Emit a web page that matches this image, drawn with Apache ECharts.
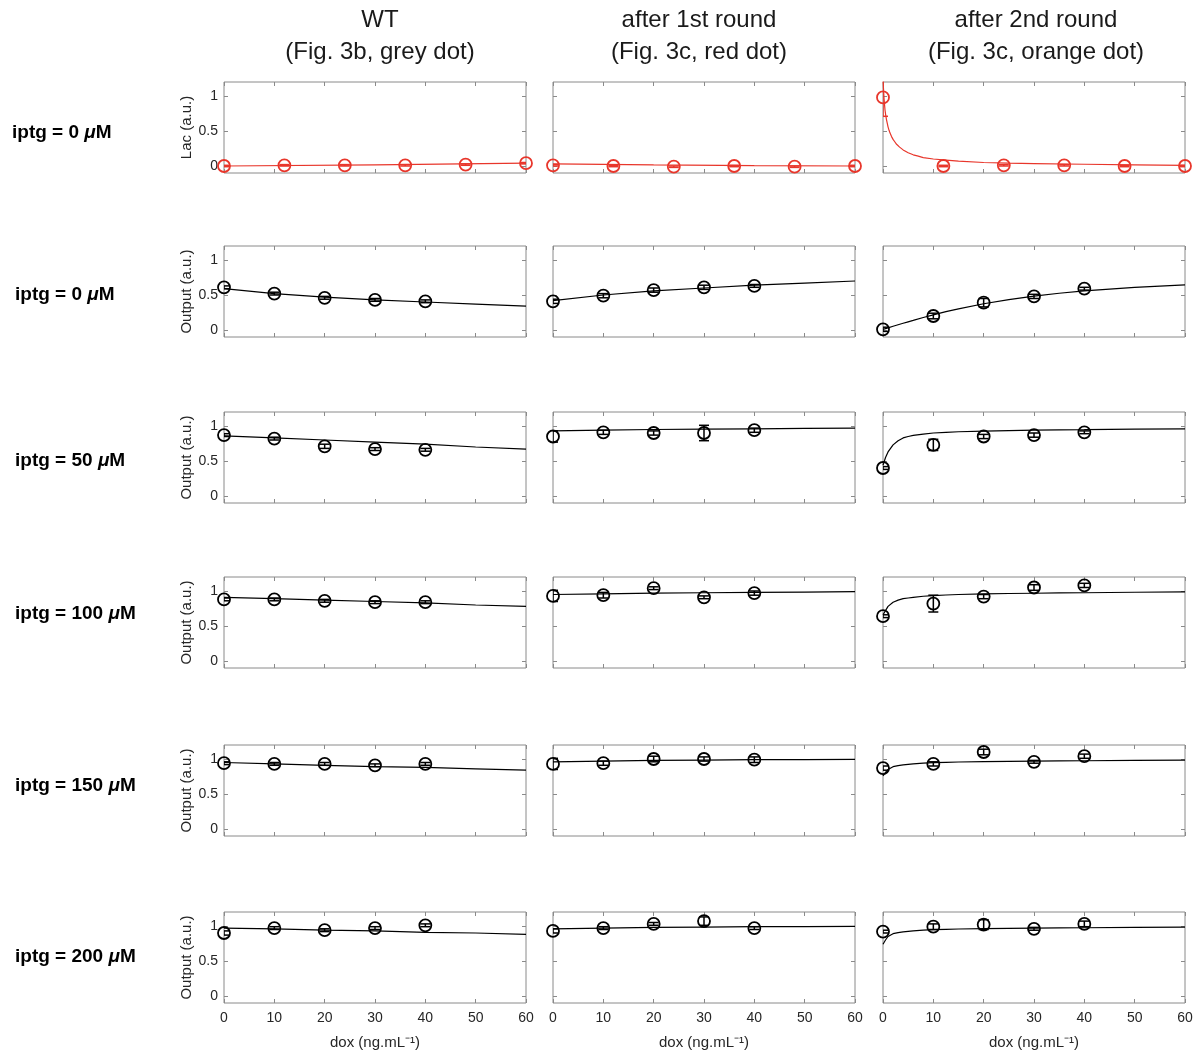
<!DOCTYPE html>
<html><head><meta charset="utf-8">
<script src="https://cdn.jsdelivr.net/npm/echarts@6/dist/echarts.min.js"></script>
<style>html,body{margin:0;padding:0;background:#fff}#c{width:1201px;height:1052px}</style>
</head><body><div id="c"></div>
<script>
// ---------- DATA ----------
const colTitles = [["WT", "(Fig. 3b, grey dot)"], ["after 1st round", "(Fig. 3c, red dot)"], ["after 2nd round", "(Fig. 3c, orange dot)"]];
const rowIptg = ["0", "0", "50", "100", "150", "200"];
const xTicks = [0, 10, 20, 30, 40, 50, 60];
const yTicks = [0, 0.5, 1];

// Lac row (red)
const lacX = [0, 12, 24, 36, 48, 60];
const wtLac = [0.00, 0.01, 0.01, 0.01, 0.02, 0.04];
const r1Lac = [0.01, 0.00, -0.01, 0.00, -0.01, 0.00];
const r2Lac = [0.98, 0.00, 0.01, 0.01, 0.00, 0.00];
const wtLacErr = [0.01, 0.01, 0.01, 0.01, 0.01, 0.01];
const r1LacErr = [0.01, 0.01, 0.01, 0.01, 0.01, 0.01];
const r2LacErr = [0.27, 0.01, 0.01, 0.01, 0.01, 0.01];
const wtLacFit = [[0, 0.00], [30, 0.015], [60, 0.04]];
const r1LacFit = [[0, 0.03], [20, 0.015], [40, 0.005], [60, 0.00]];
const r2LacFit = [[0, 1.25], [0.1, 1.1], [0.2, 0.97], [0.3, 0.88], [0.4, 0.8], [0.55, 0.72], [0.7, 0.66], [0.85, 0.61], [1, 0.56], [1.2, 0.51], [1.4, 0.47], [1.7, 0.42], [2, 0.38], [2.3, 0.35], [2.7, 0.31], [3.3, 0.27], [4, 0.23], [5, 0.19], [6, 0.16], [7, 0.14], [8, 0.12], [10, 0.10], [12.5, 0.085], [15, 0.07], [20, 0.05], [25, 0.04], [30, 0.035], [40, 0.025], [50, 0.017], [60, 0.01]];

// Output rows (iptg 0, 50, 100, 150, 200)
const doseX = [0, 10, 20, 30, 40];
const wtMean = [
  [0.61, 0.52, 0.46, 0.43, 0.41],
  [0.87, 0.82, 0.71, 0.67, 0.66],
  [0.88, 0.88, 0.86, 0.84, 0.84],
  [0.94, 0.93, 0.93, 0.91, 0.93],
  [0.90, 0.97, 0.94, 0.97, 1.01]
];
const wtErr = [
  [0.02, 0.02, 0.02, 0.02, 0.02],
  [0.02, 0.02, 0.03, 0.02, 0.02],
  [0.02, 0.02, 0.02, 0.02, 0.02],
  [0.02, 0.02, 0.02, 0.02, 0.02],
  [0.03, 0.02, 0.02, 0.02, 0.02]
];
const r1Mean = [
  [0.41, 0.49, 0.57, 0.61, 0.63],
  [0.85, 0.91, 0.90, 0.90, 0.94],
  [0.93, 0.94, 1.04, 0.91, 0.97],
  [0.93, 0.94, 1.00, 1.00, 0.99],
  [0.93, 0.97, 1.03, 1.07, 0.97]
];
const r1Err = [
  [0.03, 0.03, 0.03, 0.03, 0.02],
  [0.08, 0.03, 0.03, 0.11, 0.03],
  [0.08, 0.04, 0.02, 0.02, 0.03],
  [0.08, 0.03, 0.04, 0.03, 0.04],
  [0.03, 0.02, 0.02, 0.06, 0.02]
];
const r2Mean = [
  [0.01, 0.20, 0.39, 0.48, 0.59],
  [0.40, 0.73, 0.85, 0.87, 0.91],
  [0.64, 0.82, 0.92, 1.05, 1.08],
  [0.87, 0.93, 1.10, 0.96, 1.04],
  [0.92, 0.99, 1.02, 0.96, 1.03]
];
const r2Err = [
  [0.03, 0.04, 0.06, 0.03, 0.02],
  [0.02, 0.08, 0.03, 0.03, 0.02],
  [0.02, 0.12, 0.03, 0.04, 0.03],
  [0.03, 0.03, 0.04, 0.02, 0.03],
  [0.02, 0.04, 0.07, 0.02, 0.04]
];
// fitted curves
const fitX = [0, 10, 20, 30, 40, 50, 60];
const wtFit = [
  [0.59, 0.52, 0.47, 0.43, 0.40, 0.37, 0.34],
  [0.86, 0.83, 0.80, 0.77, 0.74, 0.70, 0.67],
  [0.91, 0.89, 0.87, 0.85, 0.83, 0.80, 0.78],
  [0.95, 0.93, 0.91, 0.89, 0.88, 0.86, 0.84],
  [0.97, 0.96, 0.94, 0.93, 0.91, 0.90, 0.88]
];
const r1Fit = [
  [0.42, 0.50, 0.56, 0.60, 0.64, 0.67, 0.70],
  [0.93, 0.94, 0.95, 0.955, 0.96, 0.965, 0.97],
  [0.95, 0.96, 0.97, 0.975, 0.98, 0.985, 0.99],
  [0.96, 0.97, 0.98, 0.985, 0.99, 0.99, 0.995],
  [0.96, 0.97, 0.98, 0.985, 0.99, 0.99, 0.995]
];
const fitX2 = [0, 0.5, 1, 2, 3, 4, 5, 6, 8, 10, 12.5, 15, 20, 25, 30, 35, 40, 50, 60];
const r2Fit = [
  [0.01, 0.02, 0.03, 0.053, 0.075, 0.096, 0.117, 0.137, 0.178, 0.216, 0.262, 0.303, 0.375, 0.435, 0.485, 0.525, 0.56, 0.61, 0.645],
  [0.44, 0.55, 0.63, 0.73, 0.79, 0.83, 0.85, 0.865, 0.885, 0.90, 0.91, 0.918, 0.928, 0.935, 0.94, 0.945, 0.948, 0.955, 0.96],
  [0.66, 0.72, 0.78, 0.84, 0.87, 0.89, 0.90, 0.91, 0.925, 0.935, 0.943, 0.95, 0.958, 0.964, 0.968, 0.972, 0.975, 0.982, 0.987],
  [0.76, 0.81, 0.85, 0.89, 0.905, 0.915, 0.923, 0.93, 0.94, 0.947, 0.953, 0.957, 0.963, 0.967, 0.97, 0.973, 0.975, 0.98, 0.985],
  [0.74, 0.80, 0.85, 0.89, 0.905, 0.915, 0.923, 0.93, 0.94, 0.947, 0.953, 0.957, 0.963, 0.967, 0.97, 0.973, 0.975, 0.98, 0.985]
];

// ---------- LAYOUT ----------
const FONT = "'Liberation Sans', Arial, sans-serif";
const colLeft = [224, 553, 883];
const colCenter = [380, 699, 1036];
const rowTop = [82, 246, 412, 577, 745, 912];
const rowLabelY = [133, 295, 461, 614, 786, 957];
const rowLabelX = [12, 15, 15, 15, 15, 15];
const PW = 302, PH = 91;
const RED = '#e8362b', BLACK = '#000', AXIS = '#8a8a8a';

const grids = [], xAxes = [], yAxes = [], series = [], graphics = [];

function errRender(color) {
  return function (params, api) {
    const x = api.value(0), lo = api.value(1), hi = api.value(2);
    const p1 = api.coord([x, lo]), p2 = api.coord([x, hi]);
    const w = 5;
    const st = { stroke: color, lineWidth: 1.5 };
    return { type: 'group', children: [
      { type: 'line', shape: { x1: p1[0], y1: p1[1], x2: p2[0], y2: p2[1] }, style: st },
      { type: 'line', shape: { x1: p1[0] - w, y1: p1[1], x2: p1[0] + w, y2: p1[1] }, style: st },
      { type: 'line', shape: { x1: p2[0] - w, y1: p2[1], x2: p2[0] + w, y2: p2[1] }, style: st }
    ]};
  };
}

const tickStyle = { show: true, inside: true, length: 4, lineStyle: { color: AXIS } };
let k = 0;
for (let r = 0; r < 6; r++) {
  for (let c = 0; c < 3; c++) {
    grids.push({ left: colLeft[c], top: rowTop[r], width: PW, height: PH, show: true, borderColor: AXIS, borderWidth: 1, backgroundColor: 'transparent' });
    const showX = r === 5;
    xAxes.push({
      gridIndex: k, type: 'value', min: 0, max: 60, interval: 10, position: 'bottom',
      axisLine: { show: false, onZero: false },
      axisTick: tickStyle,
      axisLabel: { show: showX, fontFamily: FONT, fontSize: 14, color: '#262626', margin: 8 },
      splitLine: { show: false },
      name: showX ? 'dox (ng.mL⁻¹)' : '', nameLocation: 'middle', nameGap: 32,
      nameTextStyle: { fontFamily: FONT, fontSize: 15, color: '#262626' }
    });
    xAxes.push({
      gridIndex: k, type: 'value', min: 0, max: 60, interval: 10, position: 'top',
      axisLine: { show: false, onZero: false },
      axisTick: tickStyle,
      axisLabel: { show: false }, splitLine: { show: false }
    });
    const showY = c === 0;
    yAxes.push({
      gridIndex: k, type: 'value', min: -0.1, max: 1.2, position: 'left',
      axisLine: { show: false, onZero: false },
      axisTick: Object.assign({ customValues: yTicks }, tickStyle),
      axisLabel: { show: showY, customValues: yTicks, fontFamily: FONT, fontSize: 14, color: '#262626', margin: 6 },
      splitLine: { show: false },
      name: showY ? (r === 0 ? 'Lac (a.u.)' : 'Output (a.u.)') : '', nameLocation: 'middle', nameGap: 21,
      nameTextStyle: { fontFamily: FONT, fontSize: 15, color: '#262626' }
    });
    yAxes.push({
      gridIndex: k, type: 'value', min: -0.1, max: 1.2, position: 'right',
      axisLine: { show: false, onZero: false },
      axisTick: Object.assign({ customValues: yTicks }, tickStyle),
      axisLabel: { show: false }, splitLine: { show: false }
    });

    let pts, errs, fit, color;
    if (r === 0) {
      color = RED;
      const m = [wtLac, r1Lac, r2Lac][c], e = [wtLacErr, r1LacErr, r2LacErr][c];
      pts = lacX.map((x, i) => [x, m[i]]);
      errs = lacX.map((x, i) => [x, m[i] - e[i], m[i] + e[i]]);
      fit = [wtLacFit, r1LacFit, r2LacFit][c];
    } else {
      color = BLACK;
      const m = [wtMean, r1Mean, r2Mean][c][r - 1], e = [wtErr, r1Err, r2Err][c][r - 1];
      pts = doseX.map((x, i) => [x, m[i]]);
      errs = doseX.map((x, i) => [x, m[i] - e[i], m[i] + e[i]]);
      if (c === 2) fit = fitX2.map((x, i) => [x, r2Fit[r - 1][i]]);
      else fit = fitX.map((x, i) => [x, [wtFit, r1Fit][c][r - 1][i]]);
    }
    series.push({
      type: 'line', xAxisIndex: 2 * k, yAxisIndex: 2 * k, data: fit, showSymbol: false, symbol: 'none',
      smooth: false, clip: true, silent: true,
      lineStyle: { color: color, width: 1.2 }
    });
    series.push({
      type: 'custom', xAxisIndex: 2 * k, yAxisIndex: 2 * k, data: errs, clip: true, silent: true,
      renderItem: errRender(color)
    });
    series.push({
      type: 'scatter', xAxisIndex: 2 * k, yAxisIndex: 2 * k, data: pts, symbol: 'circle', symbolSize: 12, silent: true,
      itemStyle: { color: 'rgba(0,0,0,0)', borderColor: color, borderWidth: 1.8, opacity: 1 }
    });
    k++;
  }
}

// column titles
for (let c = 0; c < 3; c++) {
  graphics.push({ type: 'text', x: colCenter[c], y: 8, style: { text: colTitles[c][0], font: '24px ' + FONT, fill: '#1a1a1a', textAlign: 'center' } });
  graphics.push({ type: 'text', x: colCenter[c], y: 40, style: { text: colTitles[c][1], font: '24px ' + FONT, fill: '#1a1a1a', textAlign: 'center' } });
}
// row labels
for (let r = 0; r < 6; r++) {
  graphics.push({ type: 'text', x: rowLabelX[r], y: rowLabelY[r], style: {
    text: '{b|iptg = ' + rowIptg[r] + ' }{m|μ}{b|M}', textVerticalAlign: 'middle',
    rich: {
      b: { fontFamily: FONT, fontWeight: 'bold', fontSize: 19, color: '#111' },
      m: { fontFamily: FONT, fontWeight: 'bold', fontStyle: 'italic', fontSize: 19, color: '#111' }
    }
  } });
}

const chart = echarts.init(document.getElementById('c'), null, { renderer: 'canvas' });
chart.setOption({
  animation: false,
  grid: grids, xAxis: xAxes, yAxis: yAxes, series: series, graphic: graphics
});
</script></body></html>
